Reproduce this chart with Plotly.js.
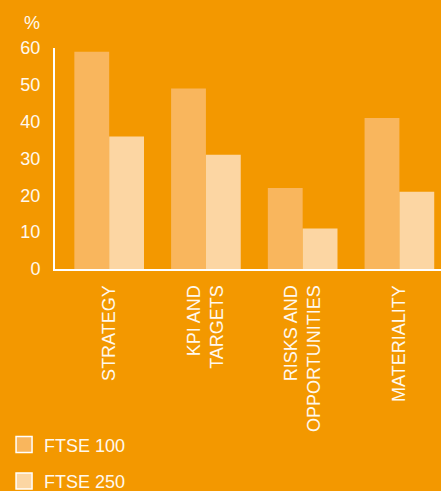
<!DOCTYPE html>
<html>
<head>
<meta charset="utf-8">
<script src="https://cdn.plot.ly/plotly-3.0.1.min.js"></script>
<style>html,body{margin:0;padding:0;background:#F39800;}#chart{width:441px;height:491px;}</style>
</head>
<body>
<div id="chart"></div>
<script>
const categories = ["STRATEGY", "KPI AND<br>TARGETS", "RISKS AND<br>OPPORTUNITIES", "MATERIALITY"];
const ftse100 = [59, 49, 22, 41];
const ftse250 = [36, 31, 11, 21];
const seriesNames = ["FTSE 100", "FTSE 250"];
const yTicks = [0, 10, 20, 30, 40, 50, 60];

const bg = "#F39800";
const c100 = "#F9B65D";
const c250 = "#FCD6A3";
const txt = "#FFF8EE";
const font = "Liberation Sans, Arial, sans-serif";

const idx = categories.map((_, i) => i);

const traces = [
  {type: "bar", x: idx, y: ftse100, marker: {color: c100}, showlegend: false, hoverinfo: "y"},
  {type: "bar", x: idx, y: ftse250, marker: {color: c250}, showlegend: false, hoverinfo: "y"},
  {type: "scatter", mode: "markers", x: [null], y: [null], name: seriesNames[0], legendgroup: "a",
   marker: {symbol: "square", size: 16, color: c100, line: {color: "#FFFFFF", width: 1.5}}},
  {type: "scatter", mode: "markers", x: [null], y: [null], name: seriesNames[1], legendgroup: "b",
   marker: {symbol: "square", size: 16, color: c250, line: {color: "#FFFFFF", width: 1.5}}}
];

const layout = {
  width: 441, height: 491,
  paper_bgcolor: bg, plot_bgcolor: bg,
  margin: {l: 55, r: 0, t: 48, b: 222, pad: 0, autoexpand: false},
  barmode: "group", bargap: 0.28, bargroupgap: 0,
  font: {family: font, color: txt, size: 18},
  xaxis: {
    range: [-0.56, 3.43], tickmode: "array", tickvals: idx, ticktext: categories,
    tickangle: -90, ticks: "", showgrid: false, zeroline: false,
    showline: true, linecolor: "#FFFFFF", linewidth: 2,
    tickfont: {family: font, size: 18, color: txt}, ticklabelstandoff: 7
  },
  yaxis: {
    range: [0, 60], tickmode: "array", tickvals: yTicks, ticks: "",
    showgrid: false, zeroline: false,
    showline: true, linecolor: "#FFFFFF", linewidth: 2,
    tickfont: {family: font, size: 18, color: txt}, ticklabelstandoff: 9
  },
  legend: {
    x: -0.132, xanchor: "left", y: -0.712, yanchor: "top",
    orientation: "v", traceorder: "grouped", tracegroupgap: 10,
    font: {family: font, size: 18, color: txt}, bgcolor: "rgba(0,0,0,0)"
  },
  annotations: [{
    text: "%", xref: "paper", yref: "paper", x: -0.06, y: 1.115,
    xanchor: "center", yanchor: "middle", showarrow: false,
    font: {family: font, size: 18, color: txt}
  }]
};

Plotly.newPlot("chart", traces, layout, {displayModeBar: false, staticPlot: true});
</script>
</body>
</html>
